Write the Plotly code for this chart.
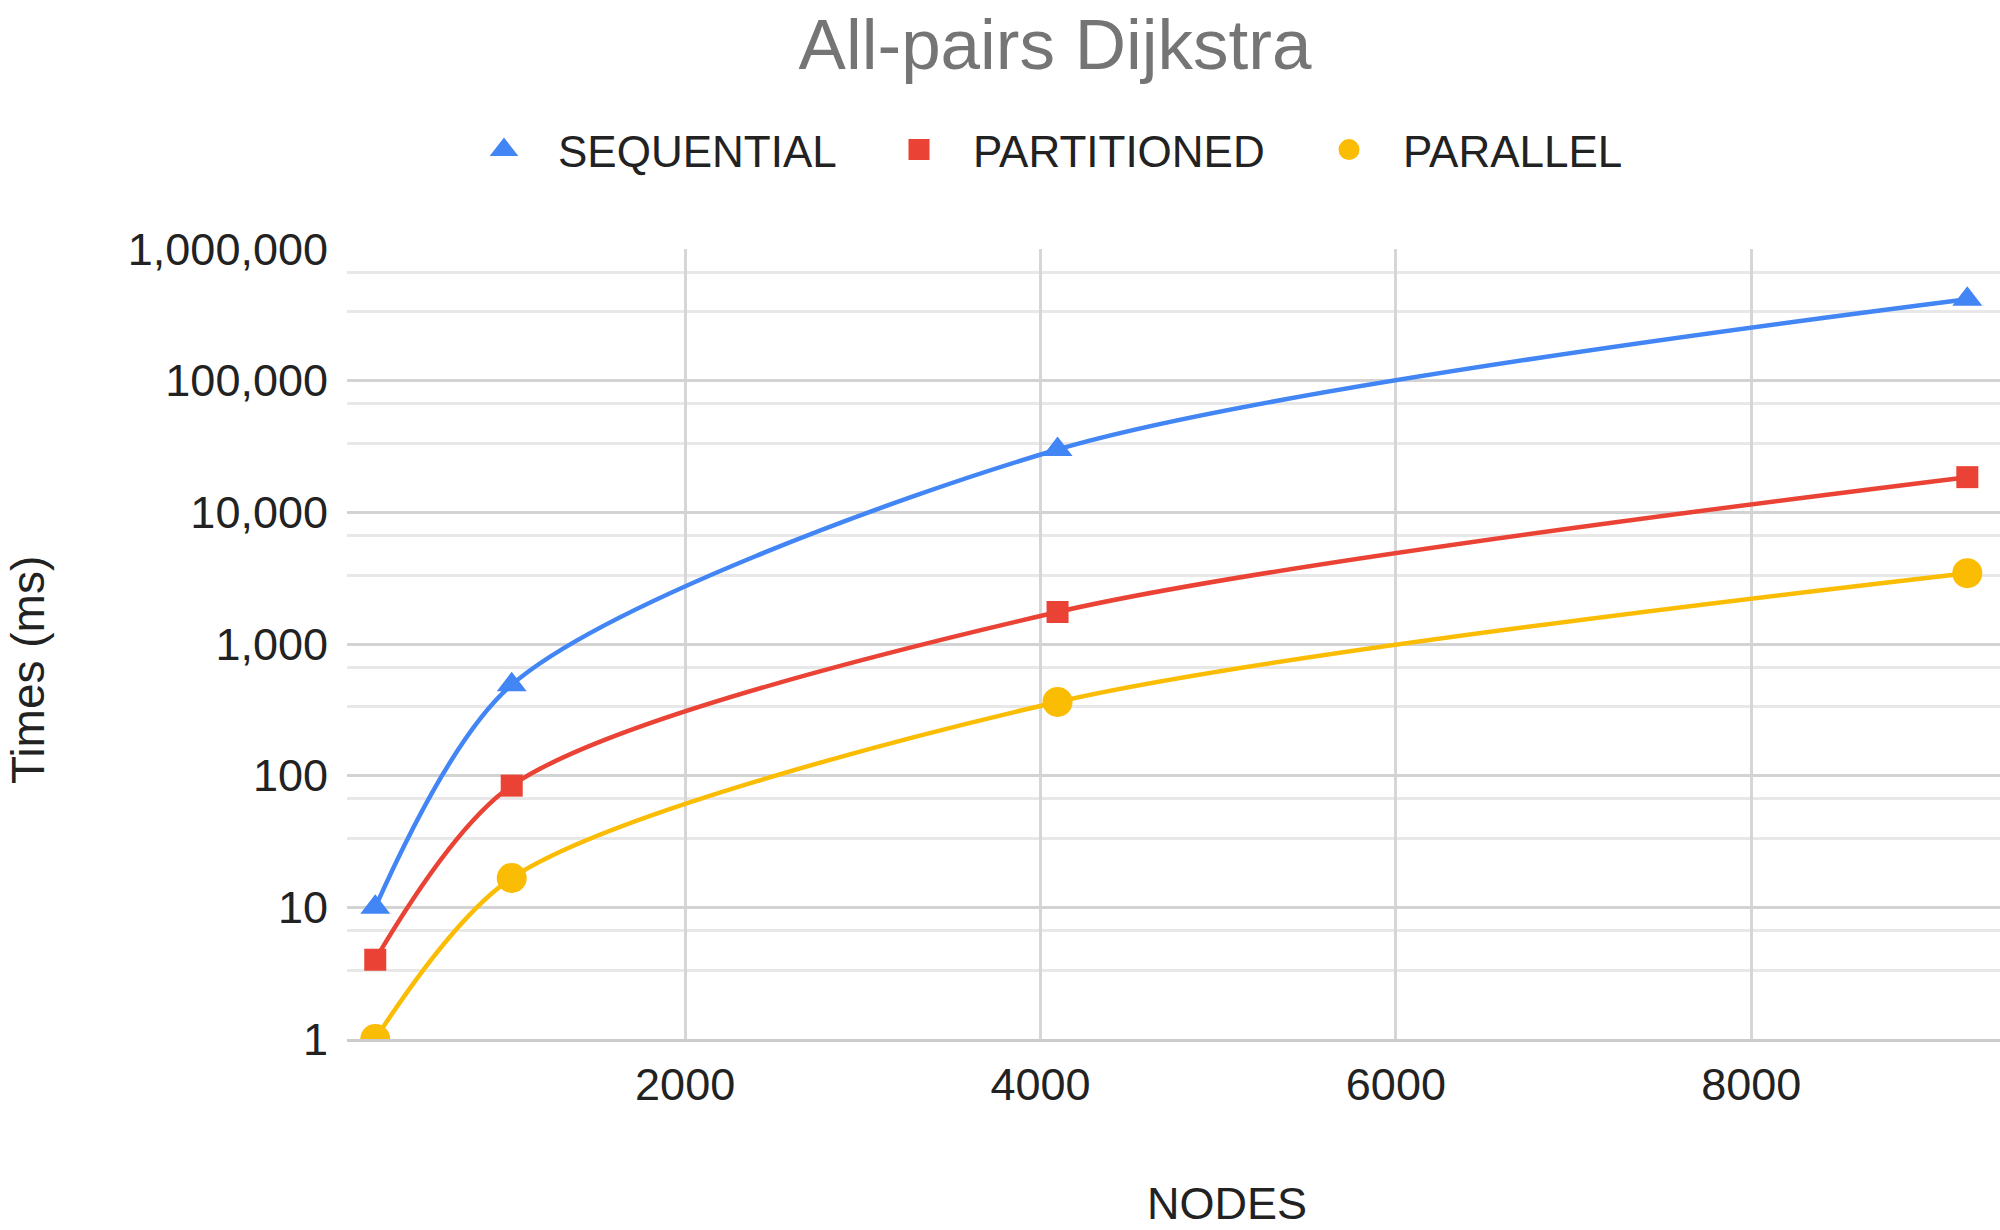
import plotly.graph_objects as go

# ---- data ----
nodes = [256, 1024, 4096, 9216]
sequential = [10, 490, 30000, 415000]
partitioned = [4, 84, 1750, 18500]
parallel = [1, 16.7, 363, 3450]

series_names = ["SEQUENTIAL", "PARTITIONED", "PARALLEL"]
series_colors = ["#4285F4", "#EA4335", "#FBBC04"]
series_symbols = ["triangle-up", "square", "circle"]
series_sizes = [26, 22, 30]
legend_ids = ["legend", "legend2", "legend3"]
legend_left_px = [450, 865, 1295]

y_tickvals = [1, 10, 100, 1000, 10000, 100000, 1000000]
y_ticktext = ["1", "10", "100", "1,000", "10,000", "100,000", "1,000,000"]
y_minor = [m * 10 ** k for k in range(6) for m in (10 / 3, 20 / 3)]
x_tickvals = [2000, 4000, 6000, 8000]

FONT = "Liberation Sans, Arial, sans-serif"
W, H = 2000, 1230
L, R, T, B = 347, 0, 249, 191
PW, PH = W - L - R, H - T - B

fig = go.Figure()
for name, ys, col, sym, sz, lg in zip(series_names, [sequential, partitioned, parallel],
                                      series_colors, series_symbols, series_sizes, legend_ids):
    fig.add_trace(go.Scatter(
        x=nodes, y=ys, name=name, mode="lines+markers",
        line=dict(color=col, width=4.5, shape="spline", smoothing=0.8),
        marker=dict(color=col, symbol=sym, size=sz),
        showlegend=False,
    ))
    fig.add_trace(go.Scatter(
        x=[None], y=[None], name=name, mode="markers",
        marker=dict(color=col, symbol=sym, size=sz, line=dict(color=col, width=5)),
        showlegend=True, legend=lg,
    ))

legend_common = dict(orientation="h", xref="container", yref="container",
                     xanchor="left", y=1 - 150 / H, yanchor="middle",
                     font=dict(family=FONT, size=44, color="#222222"),
                     itemwidth=98, bgcolor="rgba(0,0,0,0)", borderwidth=0)

fig.update_layout(
    width=W, height=H,
    margin=dict(l=L, r=R, t=T, b=B),
    paper_bgcolor="white", plot_bgcolor="white",
    font=dict(family=FONT, size=45, color="#222222"),
    title=dict(text="All-pairs Dijkstra", x=0.5275, xref="container", xanchor="center",
               y=1 - 44 / H, yref="container", yanchor="middle",
               font=dict(family=FONT, size=71, color="#757575")),
    legend=dict(x=legend_left_px[0] / W, **legend_common),
    legend2=dict(x=legend_left_px[1] / W, **legend_common),
    legend3=dict(x=legend_left_px[2] / W, **legend_common),
    showlegend=True,
    annotations=[
        dict(text="NODES", xref="paper", x=(1227 - L) / PW, xanchor="center",
             yref="paper", y=-(1203 - (H - B)) / PH, yanchor="middle", showarrow=False,
             font=dict(family=FONT, size=45, color="#222222")),
        dict(text="Times (ms)", xref="paper", x=(28 - L) / PW, xanchor="center",
             yref="paper", y=((H - B) - 670) / PH, yanchor="middle", showarrow=False,
             textangle=-90, font=dict(family=FONT, size=46, color="#222222")),
    ],
)

fig.update_xaxes(
    range=[97, 9400], tickvals=x_tickvals, showgrid=True, gridcolor="#d6d6d6", gridwidth=3,
    zeroline=False, showline=True, linecolor="#cccccc", linewidth=3,
    ticks="", ticklabelstandoff=4,
    tickfont=dict(size=45, color="#222222"),
)
fig.update_yaxes(
    type="log", range=[0, 6], tickvals=y_tickvals, ticktext=y_ticktext,
    showgrid=True, gridcolor="#d3d3d3", gridwidth=3, zeroline=False, showline=False,
    ticks="", ticklabelstandoff=18,
    minor=dict(tickvals=y_minor, showgrid=True, gridcolor="#e8e8e8", gridwidth=2.5, ticks=""),
    tickfont=dict(size=45, color="#222222"),
)

fig.write_html("out.html", config={"displayModeBar": False},
               post_script="document.body.style.margin='0px';")
